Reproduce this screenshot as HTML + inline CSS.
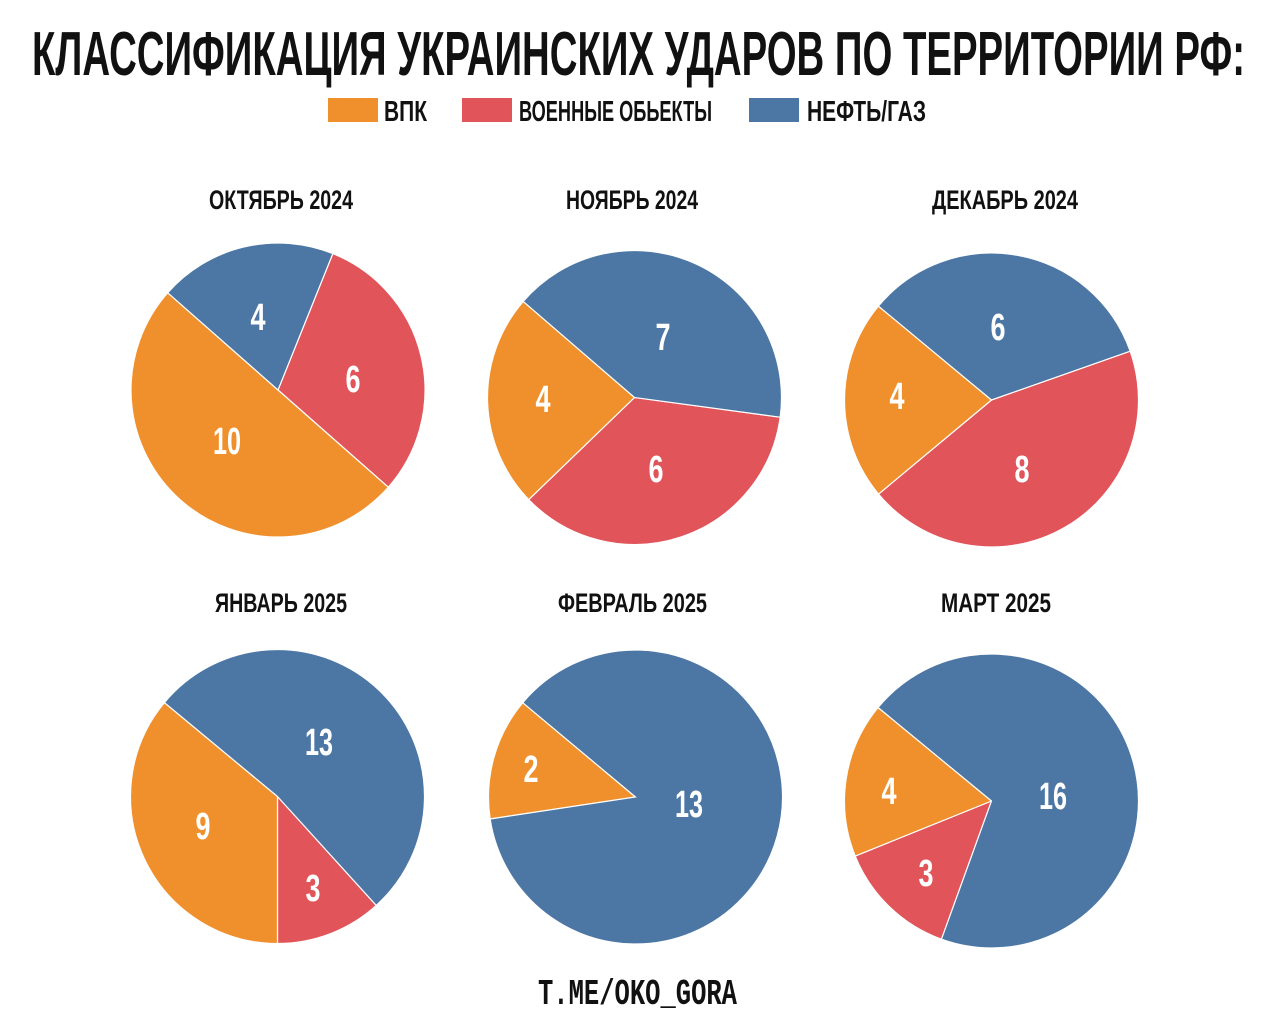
<!DOCTYPE html>
<html><head><meta charset="utf-8">
<style>
html,body{margin:0;padding:0;background:#fff;}
svg{display:block;}
text{font-family:"Liberation Sans","DejaVu Sans",sans-serif;font-weight:bold;}
</style></head>
<body>
<svg id="s" width="1280" height="1027" viewBox="0 0 1280 1027" xmlns="http://www.w3.org/2000/svg">
<rect width="1280" height="1027" fill="#fff"/>
<text x="32" y="75" font-size="62" textLength="1213" lengthAdjust="spacingAndGlyphs" fill="#111">КЛАССИФИКАЦИЯ  УКРАИНСКИХ УДАРОВ ПО ТЕРРИТОРИИ РФ:</text>
<rect x="328" y="98" width="50" height="24" fill="#F0902C"/>
<text x="384" y="121" font-size="29" textLength="43" lengthAdjust="spacingAndGlyphs" fill="#111">ВПК</text>
<rect x="462" y="98" width="50" height="24" fill="#E0545A"/>
<text x="519" y="121" font-size="29" textLength="193" lengthAdjust="spacingAndGlyphs" fill="#111">ВОЕННЫЕ ОБЬЕКТЫ</text>
<rect x="749" y="98" width="50" height="24" fill="#4C76A4"/>
<text x="807" y="121" font-size="29" textLength="119" lengthAdjust="spacingAndGlyphs" fill="#111">НЕФТЬ/ГАЗ</text>

<g font-size="27" fill="#111">
<text x="209" y="209" textLength="144" lengthAdjust="spacingAndGlyphs">ОКТЯБРЬ 2024</text>
<text x="566" y="209" textLength="132" lengthAdjust="spacingAndGlyphs">НОЯБРЬ 2024</text>
<text x="932" y="209" textLength="146" lengthAdjust="spacingAndGlyphs">ДЕКАБРЬ 2024</text>
<text x="215" y="612" textLength="132" lengthAdjust="spacingAndGlyphs">ЯНВАРЬ 2025</text>
<text x="558" y="612" textLength="149" lengthAdjust="spacingAndGlyphs">ФЕВРАЛЬ 2025</text>
<text x="941" y="612" textLength="110" lengthAdjust="spacingAndGlyphs">МАРТ 2025</text>
</g>
<g id="pies"></g>
<g id="labels" font-size="38" fill="#fff" text-anchor="middle"></g>
<text x="538" y="1004" font-size="36" textLength="199" lengthAdjust="spacingAndGlyphs" fill="#111" style="font-family:'Liberation Mono','DejaVu Sans Mono',monospace;font-weight:bold">T.ME/OKO_GORA</text>
</svg>
<script>
var O="#F0902C",R="#E0545A",B="#4C76A4";
var pies=[
 [278,390,147,[[21.9,131.4,R],[131.4,311.4,O],[311.4,381.9,B]]],
 [634.5,397.5,147,[[97.7,226,R],[226,310.8,O],[310.8,457.7,B]]],
 [991.5,400,147,[[70.6,230.2,R],[230.2,309.7,O],[309.7,430.6,B]]],
 [277.5,796.5,147,[[137.8,180,R],[180,309.7,O],[309.7,497.8,B]]],
 [635.5,797,147,[[261.4,309.9,O],[309.9,621.4,B]]],
 [991.5,801,147,[[199.9,248,R],[248,309.5,O],[309.5,559.9,B]]]
];
var labels=[[258,316,"4"],[353,378,"6"],[227,440,"10"],[663,336,"7"],[543,398,"4"],[656,468,"6"],
[998,326,"6"],[897,395,"4"],[1022,468,"8"],[319,741,"13"],[203,825,"9"],[313,887,"3"],
[531,768,"2"],[689,803,"13"],[889,790,"4"],[1053,795,"16"],[926,872,"3"]];
var NS="http://www.w3.org/2000/svg",g=document.getElementById("pies"),lg=document.getElementById("labels");
function pt(cx,cy,r,a){var t=a*Math.PI/180;return [cx+r*Math.sin(t),cy-r*Math.cos(t)];}
pies.forEach(function(p){var cx=p[0],cy=p[1],r=p[2];
 p[3].forEach(function(s){var a=pt(cx,cy,r,s[0]),b=pt(cx,cy,r,s[1]),large=(s[1]-s[0])>180?1:0;
  var e=document.createElementNS(NS,"path");
  e.setAttribute("d","M"+cx+","+cy+"L"+a[0]+","+a[1]+"A"+r+","+r+" 0 "+large+" 1 "+b[0]+","+b[1]+"Z");
  e.setAttribute("fill",s[2]);e.setAttribute("stroke","#fff");e.setAttribute("stroke-width","1.2");g.appendChild(e);});});
labels.forEach(function(l){var t=document.createElementNS(NS,"text");t.setAttribute("x",l[0]);t.setAttribute("y",l[1]+14);
 t.setAttribute("textLength",l[2].length>1?28:15);t.setAttribute("lengthAdjust","spacingAndGlyphs");t.textContent=l[2];lg.appendChild(t);});
</script>
</body></html>
